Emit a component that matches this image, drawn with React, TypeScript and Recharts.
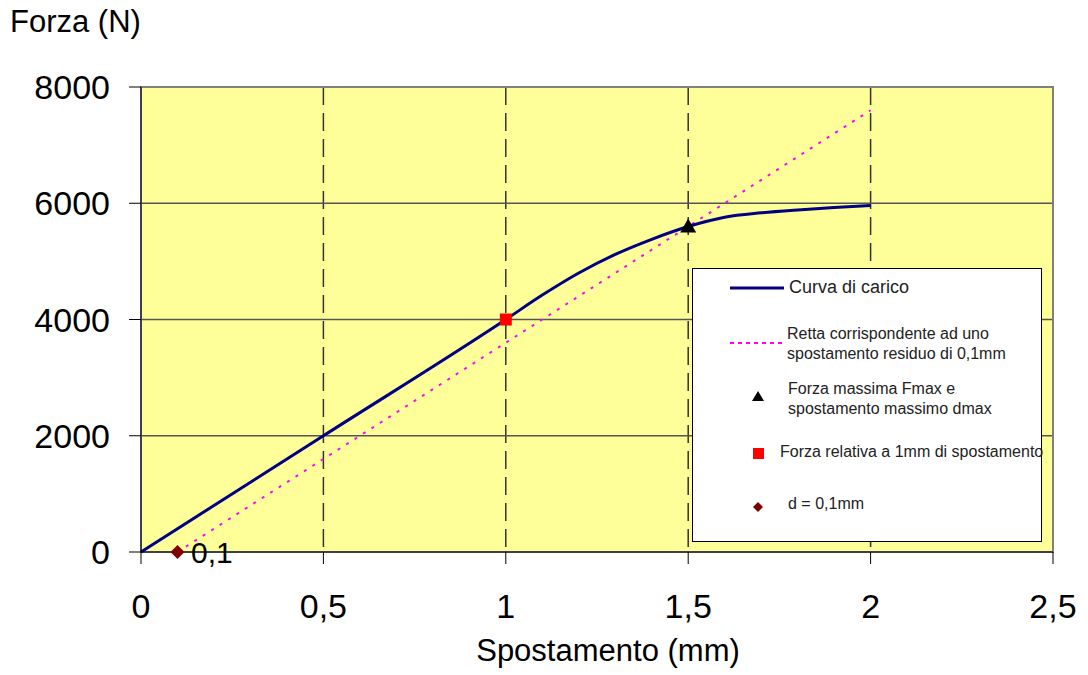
import React from "react";
import {
  ComposedChart,
  Line,
  Scatter,
  XAxis,
  YAxis,
  CartesianGrid,
  ReferenceArea,
  LabelList,
} from "recharts";

// Curva di carico
const curveX = [0, 0.5, 1, 1.1, 1.2, 1.3, 1.4, 1.5, 1.6, 1.7, 1.8, 1.9, 2];
const curveF = [0, 2000, 4000, 4420, 4800, 5120, 5380, 5600, 5760, 5835, 5885, 5925, 5960];

// retta parallela, spostamento residuo 0,1mm
const rettaX = [0.1, 2];
const rettaF = [0, 7600];

const fmaxPoint = [{ x: 1.5, y: 5600 }];
const f1mmPoint = [{ x: 1, y: 4000 }];
const d01Point = [{ x: 0.1, y: 0, label: "0,1" }];

const xTicks = [0, 0.5, 1, 1.5, 2, 2.5];
const yTicks = [0, 2000, 4000, 6000, 8000];

const curveData = curveX.map((x, i) => ({ x, y: curveF[i] }));
const rettaData = rettaX.map((x, i) => ({ x, y: rettaF[i] }));

const FONT = "'Liberation Sans', Arial, sans-serif";

const Triangle = (p: any) => (
  <path d={`M${p.cx},${p.cy - 8} L${p.cx + 8},${p.cy + 6} L${p.cx - 8},${p.cy + 6} Z`} fill="#000" />
);
const Square = (p: any) => <rect x={p.cx - 6} y={p.cy - 6} width={12} height={12} fill="#FF0000" />;
const Diamond = (p: any) => (
  <path d={`M${p.cx},${p.cy - 7} L${p.cx + 7},${p.cy} L${p.cx},${p.cy + 7} L${p.cx - 7},${p.cy} Z`} fill="#800000" />
);

const legendText: React.CSSProperties = {
  position: "absolute",
  fontFamily: FONT,
  fontSize: 16,
  color: "#222",
  lineHeight: "20px",
  whiteSpace: "nowrap",
};

function LegendBox() {
  return (
    <div
      style={{
        position: "absolute",
        left: 692,
        top: 268,
        width: 348,
        height: 272,
        background: "#fff",
        border: "1px solid #000",
      }}
    >
      <svg width={348} height={272} style={{ position: "absolute", left: 0, top: 0 }}>
        <line x1={37} y1={19} x2={91} y2={19} stroke="#000080" strokeWidth={3} />
        <line x1={37} y1={74} x2={90} y2={74} stroke="#FF00FF" strokeWidth={2} strokeDasharray="4 4" />
        <path d="M65,122 L71,132 L59,132 Z" fill="#000" />
        <rect x={60} y={179} width={11} height={11} fill="#FF0000" />
        <path d="M65,233 L70,238 L65,243 L60,238 Z" fill="#800000" />
      </svg>
      <div style={{ ...legendText, left: 96, top: 8, fontSize: 18 }}>Curva di carico</div>
      <div style={{ ...legendText, left: 94, top: 55 }}>
        Retta corrispondente ad uno
        <br />
        spostamento residuo di 0,1mm
      </div>
      <div style={{ ...legendText, left: 95, top: 110 }}>
        Forza massima Fmax e
        <br />
        spostamento massimo dmax
      </div>
      <div style={{ ...legendText, left: 87, top: 173 }}>Forza relativa a 1mm di spostamento</div>
      <div style={{ ...legendText, left: 95, top: 225 }}>d = 0,1mm</div>
    </div>
  );
}

export default function App() {
  const tickStyle = { fill: "#000", fontSize: 34, fontFamily: FONT };
  return (
    <div style={{ position: "absolute", left: 0, top: 0, width: 1088, height: 675, background: "#fff" }}>
      <ComposedChart
        width={1088}
        height={675}
        margin={{ top: 87, right: 35, bottom: 43, left: 0 }}
      >
        <CartesianGrid
          horizontal={false}
          vertical={true}
          fill="#FFFF99"
          fillOpacity={1}
          stroke="#333"
          strokeWidth={1.5}
          strokeDasharray="18 8"
          verticalPoints={[323.4, 505.8, 688.2, 870.6]}
        />
        <CartesianGrid horizontal={true} vertical={false} stroke="#555" strokeWidth={1.5} />
        <ReferenceArea x1={0} x2={2.5} y1={0} y2={8000} fill="none" stroke="#808080" strokeWidth={2} />
        <XAxis
          type="number"
          dataKey="x"
          domain={[0, 2.5]}
          ticks={xTicks}
          tickFormatter={(v: number) => String(v).replace(".", ",")}
          stroke="#000"
          tickSize={12}
          tickMargin={30}
          tick={tickStyle}
          height={80}
          interval={0}
        />
        <YAxis
          type="number"
          dataKey="y"
          domain={[0, 8000]}
          ticks={yTicks}
          stroke="#000"
          tickSize={12}
          tickMargin={19}
          tick={tickStyle}
          width={141}
          interval={0}
        />
        <Line
          data={rettaData}
          dataKey="y"
          type="linear"
          stroke="#FF00FF"
          strokeWidth={2}
          strokeDasharray="3 7"
          dot={false}
          isAnimationActive={false}
        />
        <Line
          data={curveData}
          dataKey="y"
          type="monotone"
          stroke="#000080"
          strokeWidth={3}
          dot={false}
          isAnimationActive={false}
        />
        <Scatter data={fmaxPoint} dataKey="y" shape={Triangle} isAnimationActive={false} />
        <Scatter data={f1mmPoint} dataKey="y" shape={Square} isAnimationActive={false} />
        <Scatter data={d01Point} dataKey="y" shape={Diamond} isAnimationActive={false}>
          <LabelList
            dataKey="label"
            position="right"
            offset={9}
            style={{ fill: "#000", fontSize: 30, fontFamily: FONT }}
          />
        </Scatter>
      </ComposedChart>
      <div style={{ position: "absolute", left: 10, top: 4, fontFamily: FONT, fontSize: 31, color: "#000" }}>
        Forza (N)
      </div>
      <div
        style={{
          position: "absolute",
          left: 0,
          width: 1216,
          top: 633,
          textAlign: "center",
          fontFamily: FONT,
          fontSize: 31,
          color: "#000",
        }}
      >
        Spostamento (mm)
      </div>
      <LegendBox />
    </div>
  );
}
